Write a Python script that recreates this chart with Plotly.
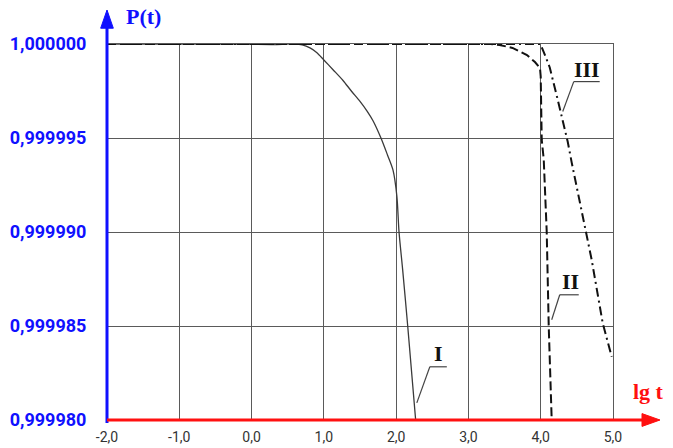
import plotly.graph_objects as go

# ---- data ----
x_I = [-2.0, -1.0, -0.5, 0.0, 0.3, 0.6, 0.7, 0.808, 0.9, 1.0, 1.13, 1.265, 1.38, 1.50, 1.60,
       1.68, 1.79, 1.88, 1.956, 2.01, 2.04, 2.09, 2.16, 2.27]
p_I = [1.0, 1.0, 1.0, 0.99999998, 0.99999997, 1.0, 0.99999995, 0.99999979, 0.99999955,
       0.99999915, 0.99999862, 0.99999806, 0.9999975, 0.99999695, 0.99999642, 0.99999592,
       0.999995, 0.9999941, 0.9999933, 0.9999919, 0.99999, 0.999988, 0.999985, 0.99998]

x_II = [-2.0, 3.3, 3.43, 3.61, 3.81, 3.92, 3.99, 4.0, 4.014, 4.042, 4.083, 4.111, 4.152]
p_II = [1.0, 1.0, 0.99999995, 0.99999979, 0.99999941, 0.99999904, 0.99999872, 0.99999827,
        0.99999491, 0.99999385, 0.99999002, 0.99998496, 0.99998]

x_III = [-2.0, 3.996, 4.056, 4.125, 4.235, 4.373, 4.429, 4.609, 4.705, 4.857, 4.982]
p_III = [1.0, 1.0, 0.99999944, 0.99999875, 0.99999704, 0.99999481, 0.99999369, 0.99999028,
         0.99998852, 0.99998517, 0.99998336]

x_ticks = [-2, -1, 0, 1, 2, 3, 4, 5]
x_ticktext = ["-2,0", "-1,0", "0,0", "1,0", "2,0", "3,0", "4,0", "5,0"]
y_ticks = [0.99998, 0.999985, 0.99999, 0.999995, 1.0]
y_ticktext = ["0,999980", "0,999985", "0,999990", "0,999995", "1,000000"]

# curve labels: (text, text x, text y, underline x0, x1, underline y, leader end x, leader end y)
labels = [
    ("I", 2.584, 0.99998352, 2.466, 2.701, 0.99998283, 2.286, 0.99998091),
    ("II", 4.408, 0.99998735, 4.263, 4.526, 0.99998666, 4.152, 0.99998533),
    ("III", 4.636, 0.99999864, 4.457, 4.816, 0.999998, 4.305, 0.99999641),
]

BLUE = "#1010ff"
RED = "#ff1010"
GRID = "#5a5a5a"

fig = go.Figure()
fig.add_trace(go.Scatter(x=x_I, y=p_I, mode="lines", cliponaxis=False,
                         line=dict(color="#3a3a3a", width=1.3, shape="spline", smoothing=0.8)))
fig.add_trace(go.Scatter(x=x_II, y=p_II, mode="lines", cliponaxis=False,
                         line=dict(color="#111", width=2, dash="9px,4px")))
fig.add_trace(go.Scatter(x=x_III, y=p_III, mode="lines", cliponaxis=False,
                         line=dict(color="#111", width=2, dash="9px,4px,2px,4px")))

shapes = []
annotations = []
for txt, tx, ty, ux0, ux1, uy, lx, ly in labels:
    annotations.append(dict(x=tx, y=ty, xref="x", yref="y", text="<b>%s</b>" % txt,
                            showarrow=False,
                            font=dict(family="Liberation Serif", size=22, color="#111")))
    shapes.append(dict(type="line", xref="x", yref="y", x0=ux0, x1=ux1, y0=uy, y1=uy,
                       line=dict(color="#444", width=1.2)))
    shapes.append(dict(type="line", xref="x", yref="y", x0=ux0, x1=lx, y0=uy, y1=ly,
                       line=dict(color="#444", width=1.2)))

# axes with arrows (paper coords)
shapes.append(dict(type="line", xref="paper", yref="paper", x0=0, x1=0, y0=-0.008, y1=1.05,
                   line=dict(color=BLUE, width=3)))
shapes.append(dict(type="path", xref="paper", yref="paper",
                   path="M -0.0125 1.042 L 0 1.0904 L 0.0125 1.042 Z",
                   fillcolor=BLUE, line=dict(color=BLUE, width=1)))
shapes.append(dict(type="line", xref="paper", yref="paper", x0=0, x1=1.065, y0=0, y1=0,
                   line=dict(color=RED, width=3)))
shapes.append(dict(type="path", xref="paper", yref="paper",
                   path="M 1.0573 0.017 L 1.0929 0 L 1.0573 -0.017 Z",
                   fillcolor=RED, line=dict(color=RED, width=1)))

annotations.append(dict(xref="paper", yref="paper", x=0.072, y=1.072, text="<b>P(t)</b>",
                        showarrow=False, xanchor="center", yanchor="middle",
                        font=dict(family="Liberation Serif", size=22, color=BLUE)))
annotations.append(dict(xref="paper", yref="paper", x=1.071, y=0.077, text="<b>lg t</b>",
                        showarrow=False, xanchor="center", yanchor="middle",
                        font=dict(family="Liberation Serif", size=22, color=RED)))

fig.update_layout(
    width=673, height=448,
    margin=dict(l=107, r=60, t=44, b=28),
    paper_bgcolor="white", plot_bgcolor="white",
    showlegend=False,
    shapes=shapes, annotations=annotations,
    xaxis=dict(range=[-2, 5], tickvals=x_ticks, ticktext=x_ticktext, automargin=False,
               showgrid=True, gridcolor=GRID, gridwidth=1, zeroline=False,
               showline=True, mirror=True, linecolor=GRID, linewidth=1,
               ticks="", ticklabelstandoff=4,
               tickfont=dict(family="Roboto", size=14, color="#333")),
    yaxis=dict(range=[0.99998, 1.0], tickvals=y_ticks, ticktext=y_ticktext, automargin=False,
               showgrid=True, gridcolor=GRID, gridwidth=1, zeroline=False,
               showline=True, mirror=True, linecolor=GRID, linewidth=1,
               ticks="", ticklabelstandoff=16,
               tickfont=dict(family="Roboto", size=18, color=BLUE, weight="bold")),
)

fig.write_html("out.html", config={"displayModeBar": False},
               post_script="document.body.style.margin='0';")
